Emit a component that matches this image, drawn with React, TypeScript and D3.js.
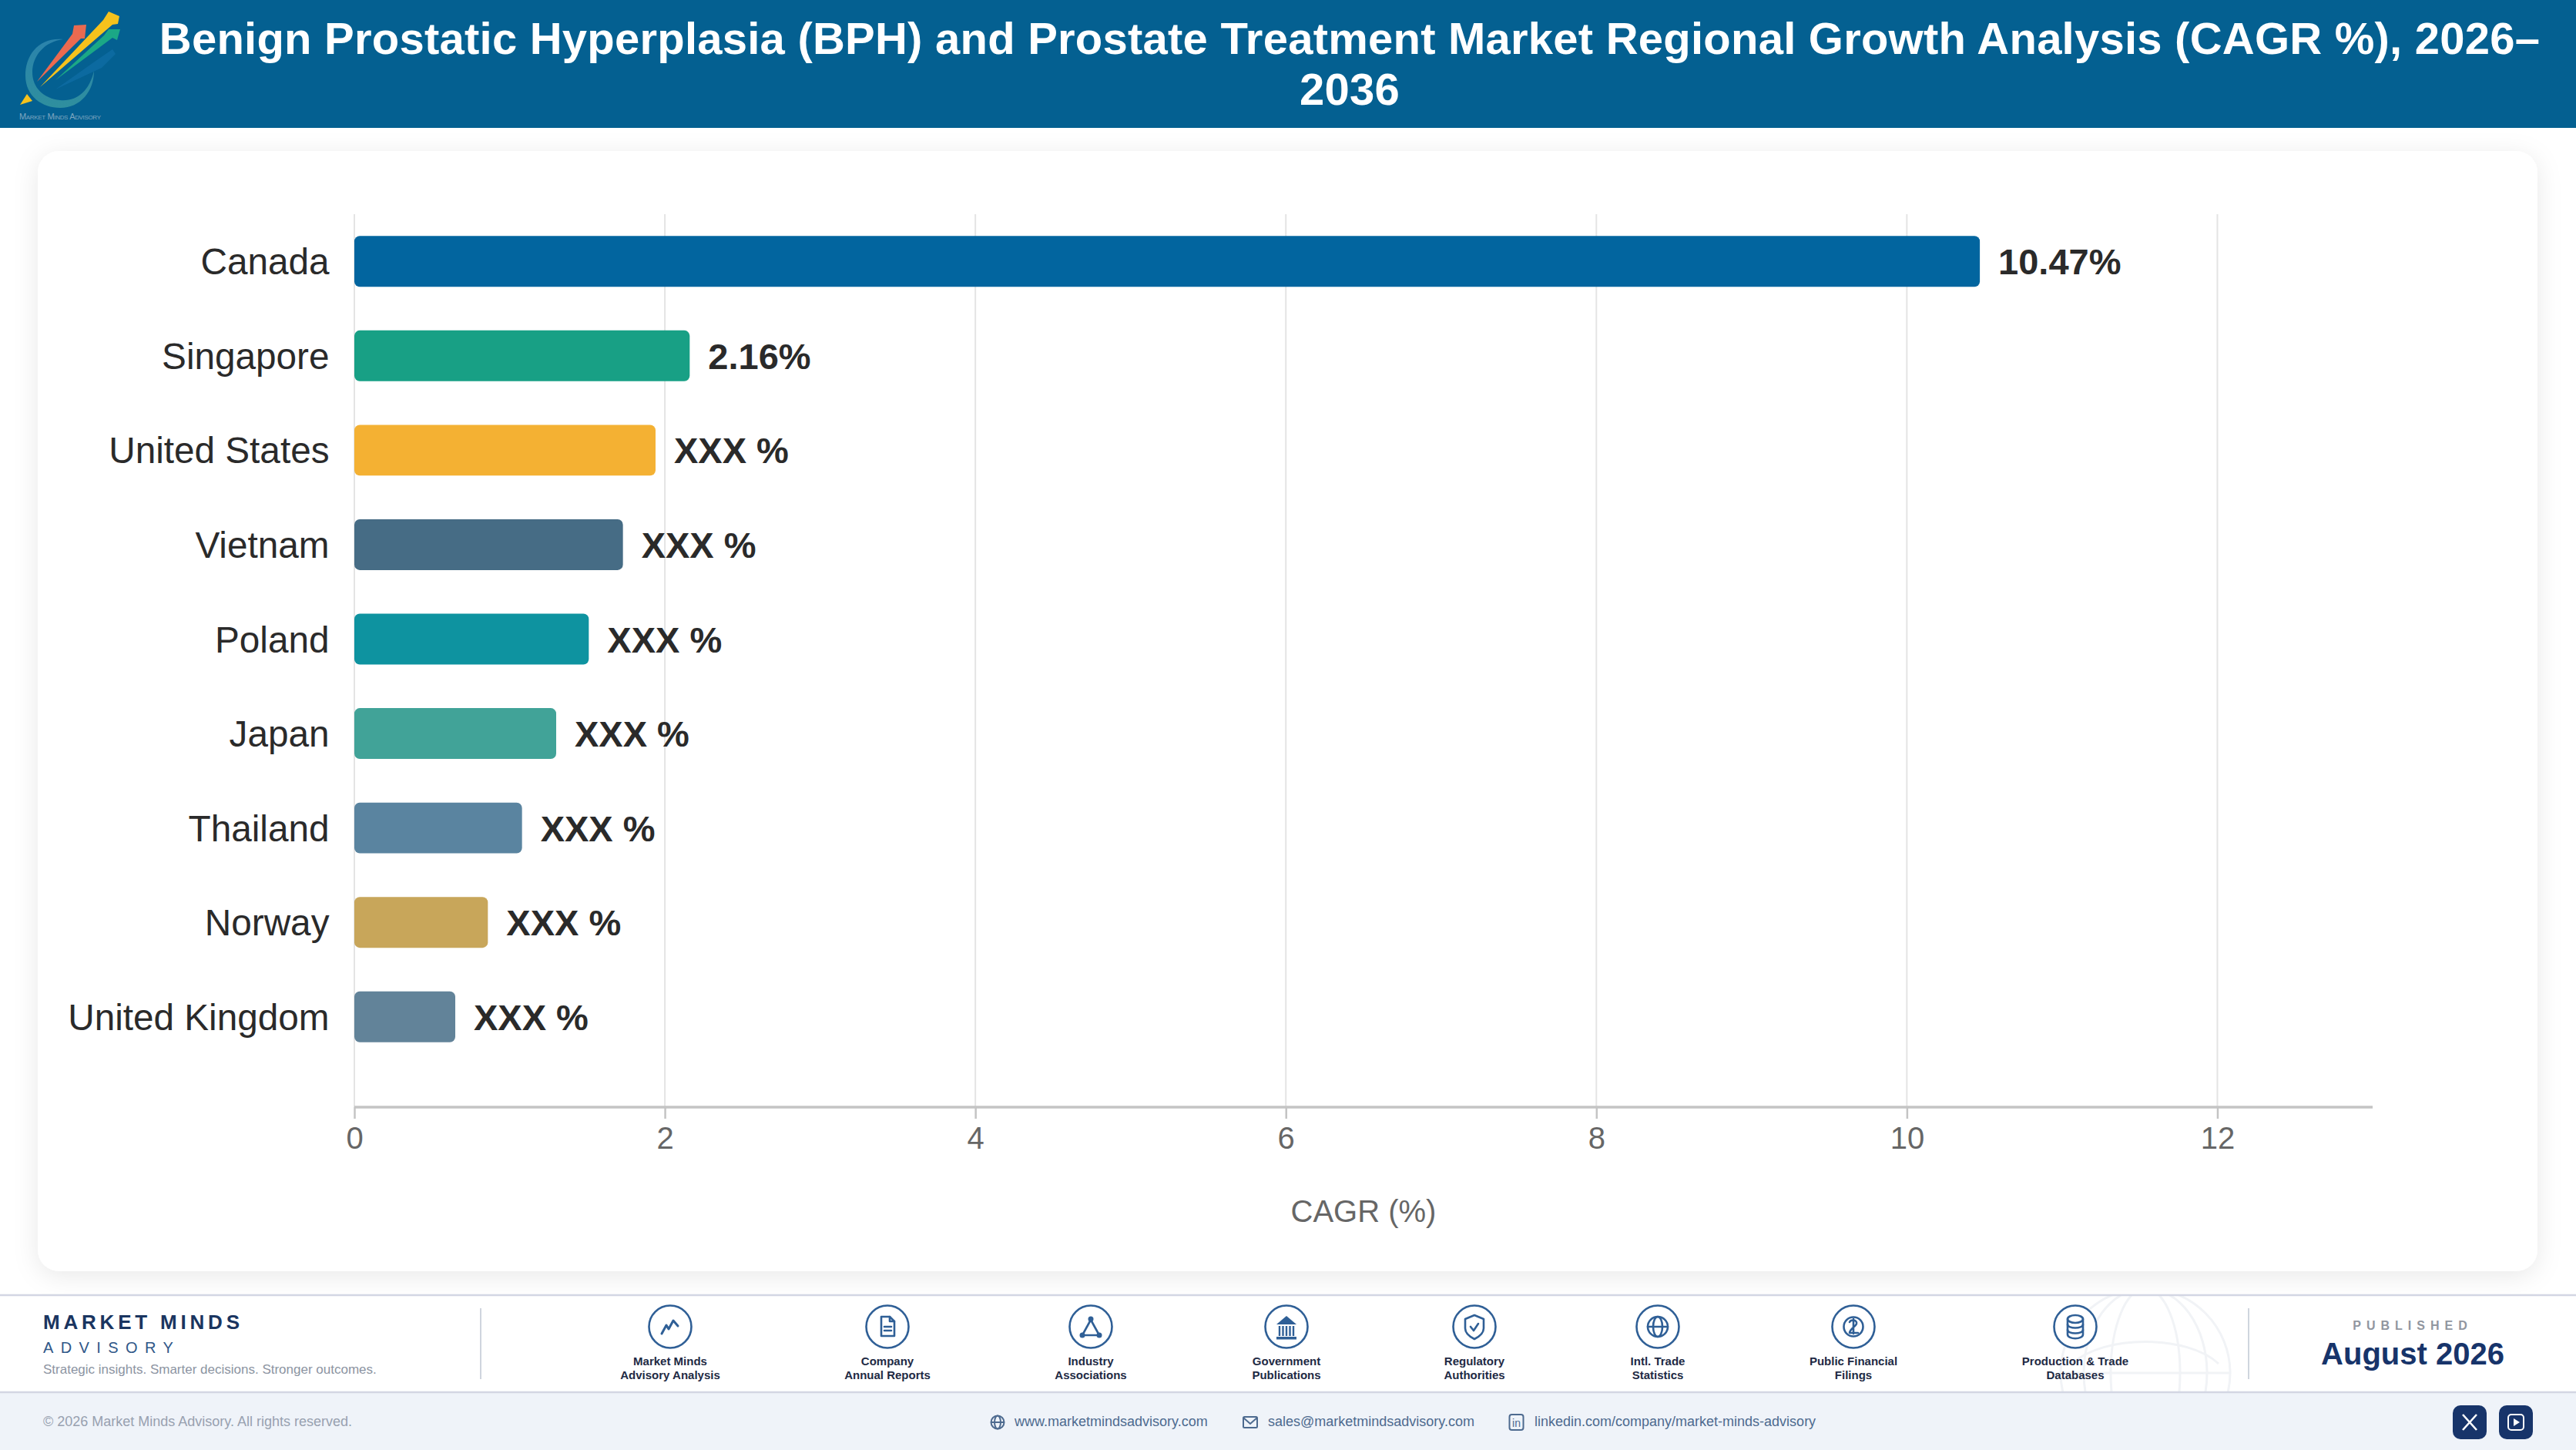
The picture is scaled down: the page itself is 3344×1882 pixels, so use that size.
import React, { useEffect, useRef } from "react";
import * as d3 from "d3";

const categories = ["Canada", "Singapore", "United States", "Vietnam", "Poland", "Japan", "Thailand", "Norway", "United Kingdom"];
const cagrValues = [10.47, 2.16, 1.94, 1.73, 1.51, 1.3, 1.08, 0.86, 0.65];
const valueLabels = ["10.47%", "2.16%", "XXX %", "XXX %", "XXX %", "XXX %", "XXX %", "XXX %", "XXX %"];
const barColors = ["#02659f", "#18a085", "#f4b133", "#466c85", "#0e93a0", "#41a398", "#5a84a0", "#c8a65a", "#628399"];
const xTicks = [0, 2, 4, 6, 8, 10, 12];
const titleLines = [
  "Benign Prostatic Hyperplasia (BPH) and Prostate Treatment Market Regional Growth Analysis (CAGR %), 2026–",
  "2036",
];
const sourceLabels = [
  ["Market Minds", "Advisory Analysis"],
  ["Company", "Annual Reports"],
  ["Industry", "Associations"],
  ["Government", "Publications"],
  ["Regulatory", "Authorities"],
  ["Intl. Trade", "Statistics"],
  ["Public Financial", "Filings"],
  ["Production & Trade", "Databases"],
];
const sourceCenters = [870, 1152, 1416, 1670, 1914, 2152, 2406, 2694];

const FONT = "'Liberation Sans', Arial, sans-serif";
const ICON = "#2f5f96";
const NAVY = "#17346a";

function SourceIcon({ i }: { i: number }) {
  const s = { fill: "none", stroke: ICON, strokeWidth: 2.6, strokeLinejoin: "round" as const, strokeLinecap: "round" as const };
  const f = { fill: ICON, stroke: "none" };
  switch (i) {
    case 0:
      return <path {...s} strokeWidth={3} d="M-11 9 L-5 -2 L-2 3 L4 -8 L10 -1" />;
    case 1:
      return (
        <g {...s}>
          <path d="M-8 -13 H3 L9 -7 V12 H-8 Z" />
          <path d="M3 -13 V-7 H9" />
          <path d="M-4 0 H5 M-4 5 H5" />
        </g>
      );
    case 2:
      return (
        <g>
          <path {...s} d="M0 -9 L-11 11 H11 Z" />
          <circle cx={0} cy={-10} r={3.5} {...f} />
          <circle cx={-11} cy={11} r={3.5} {...f} />
          <circle cx={11} cy={11} r={3.5} {...f} />
        </g>
      );
    case 3:
      return (
        <g>
          <path {...f} d="M0 -14 L13 -3 H-13 Z" />
          <path {...s} strokeLinecap="butt" strokeWidth={2.4} d="M-9 -1 V12 M-4.5 -1 V12 M0 -1 V12 M4.5 -1 V12 M9 -1 V12" />
          <rect x={-13} y={13} width={26} height={3.5} {...f} />
        </g>
      );
    case 4:
      return (
        <g {...s}>
          <path d="M0 -15 L12 -10 V2 C12 9 6 13 0 16 C-6 13 -12 9 -12 2 V-10 Z" />
          <path d="M-5 0 L-1 5 L5 -4" />
        </g>
      );
    case 5:
      return (
        <g {...s}>
          <circle r={13} />
          <ellipse rx={6} ry={13} />
          <path d="M-13 0 H13" />
        </g>
      );
    case 6:
      return (
        <g {...s}>
          <circle r={12.5} />
          <path d="M-5 -6 C-3 -10 5 -9 4 -4 C3 0 -5 3 -5 8 H6 M0 -10 V9" />
        </g>
      );
    default:
      return (
        <g {...s}>
          <ellipse cy={-10} rx={10} ry={5} />
          <path d="M-10 -10 V10 C-10 17 10 17 10 10 V-10" />
          <path d="M-10 -3 C-10 3 10 3 10 -3 M-10 4 C-10 10 10 10 10 4" />
        </g>
      );
  }
}

function Logo() {
  return (
    <g>
      <defs>
        <linearGradient id="ring" x1="0" y1="0" x2="0" y2="1">
          <stop offset="0" stopColor="#2b83ac" />
          <stop offset="1" stopColor="#2f8f9e" />
        </linearGradient>
      </defs>
      <path d="M82 51 C50 48 33 72 33 98 C33 125 55 140 78 140 C105 140 122 118 122 92 C116 118 100 132 78 130 C57 128 42 114 42 94 C42 72 58 54 82 51 Z" fill="url(#ring)" />
      <path d="M72 116 L120 82 L146 64 L150 70 L132 88 Z" fill="#0f6ea6" opacity={0.75} />
      <path d="M72 104 L135 46 L141 38 L156 38 L152 52 L146 49 Z" fill="#1ba886" />
      <path d="M48 106 L94 44 L96 33 L112 32 L110 50 L105 50 Z" fill="#ea6a50" />
      <path d="M52 113 L134 26 L141 15 L155 21 L153 31 L146 32 Z" fill="#f6c21c" />
      <path d="M26 136 L35 122 L42 131 Z" fill="#f6c21c" />
      <text x={25} y={155} fontFamily={FONT} fontSize={11} fill="#7fa6c0" style={{ fontVariant: "small-caps" }} textLength={106}>Market Minds Advisory</text>
    </g>
  );
}

export default function App() {
  const axisRef = useRef<SVGGElement>(null);

  const margin = { left: 460, top: 278, axisY: 1437 };
  const x = d3.scaleLinear().domain([0, 13]).range([margin.left, 3080]);
  const y = d3.scaleBand<string>().domain(categories).range([278, 1381]).paddingInner(0.462).paddingOuter(0.231);

  useEffect(() => {
    if (!axisRef.current) return;
    const g = d3.select(axisRef.current);
    g.call(d3.axisBottom(x).tickValues(xTicks).tickSize(15).tickPadding(11).tickFormat(d3.format("d")) as any);
    g.select(".domain").attr("stroke", "#c4c4c4").attr("stroke-width", 3.5).attr("d", `M${x(0)},0H${x(13)}`);
    g.selectAll(".tick line").attr("stroke", "#c4c4c4").attr("stroke-width", 2.5);
    g.selectAll(".tick text").attr("fill", "#666666").attr("font-size", 40).attr("font-family", FONT);
  }, []);

  return (
    <svg width={3344} height={1882} viewBox="0 0 3344 1882" style={{ position: "absolute", left: 0, top: 0, display: "block" }} fontFamily={FONT}>
      <defs>
        <filter id="cardShadow" x="-5%" y="-8%" width="110%" height="116%">
          <feDropShadow dx={0} dy={6} stdDeviation={16} floodColor="#000" floodOpacity={0.09} />
        </filter>
        <clipPath id="footerClip"><rect x={0} y={1682} width={3344} height={124} /></clipPath>
      </defs>
      <rect width={3344} height={1882} fill="#ffffff" />

      <rect x={0} y={0} width={3344} height={166} fill="#046091" />
      <Logo />
      {titleLines.map((t, i) => (
        <text key={i} x={1752} y={70 + i * 66} textAnchor="middle" fontSize={58} letterSpacing={0.23} fontWeight={700} fill="#ffffff">{t}</text>
      ))}

      <rect x={49} y={196} width={3245} height={1454} rx={28} fill="#ffffff" filter="url(#cardShadow)" />

      {xTicks.map((t) => (
        <line key={t} x1={x(t)} x2={x(t)} y1={margin.top} y2={margin.axisY} stroke="#e4e4e4" strokeWidth={2} />
      ))}
      {categories.map((c, i) => {
        const cy = (y(c) as number) + y.bandwidth() / 2;
        return (
          <g key={c}>
            <rect x={x(0)} y={y(c)} width={x(cagrValues[i]) - x(0)} height={y.bandwidth()} rx={7} fill={barColors[i]} />
            <text x={427.5} y={cy + 17} textAnchor="end" fontSize={47.7} fill="#2a2a2a">{c}</text>
            <text x={x(cagrValues[i]) + 24} y={cy + 17} fontSize={47} fontWeight={700} fill="#2a2a2a">{valueLabels[i]}</text>
          </g>
        );
      })}
      <g ref={axisRef} transform={`translate(0,${margin.axisY})`} />
      <text x={1770} y={1586} textAnchor="middle" fontSize={40} fill="#666666">CAGR (%)</text>

      {/* footer */}
      <rect x={0} y={1681} width={3344} height={126} fill="#ffffff" />
      <g clipPath="url(#footerClip)" fill="none" stroke="#f1f3f6" strokeWidth={3}>
        <circle cx={2785} cy={1782} r={110} />
        <ellipse cx={2785} cy={1782} rx={45} ry={110} />
        <ellipse cx={2785} cy={1782} rx={80} ry={110} />
        <path d="M2675 1782 H2895" />
        <path d="M2690 1770 C2730 1732 2840 1732 2880 1770" />
      </g>
      <line x1={0} x2={3344} y1={1681} y2={1681} stroke="#d3d6e3" strokeWidth={2.5} />
      <rect x={0} y={1807} width={3344} height={75} fill="#eff3f9" />
      <line x1={0} x2={3344} y1={1807} y2={1807} stroke="#d3d6e3" strokeWidth={2.5} />

      <text x={56} y={1725} fontSize={26} fontWeight={700} letterSpacing={4.8} fill="#1a3560">MARKET MINDS</text>
      <text x={56} y={1756} fontSize={20} letterSpacing={9.4} fill="#2f5788">ADVISORY</text>
      <text x={56} y={1783} fontSize={17} fill="#8c94a2">Strategic insights. Smarter decisions. Stronger outcomes.</text>
      <line x1={624} x2={624} y1={1698} y2={1790} stroke="#cfd5de" strokeWidth={2} />
      <line x1={2919} x2={2919} y1={1698} y2={1790} stroke="#cfd5de" strokeWidth={2} />

      {sourceLabels.map((l, i) => (
        <g key={i} transform={`translate(${sourceCenters[i]},0)`}>
          <circle cx={0} cy={1722} r={27.5} fill="#ffffff" stroke={ICON} strokeWidth={2.6} />
          <g transform="translate(0,1722)"><SourceIcon i={i} /></g>
          {l.map((t, j) => (
            <text key={j} x={0} y={1772 + j * 18} textAnchor="middle" fontSize={15} fontWeight={700} fill="#1e2a44">{t}</text>
          ))}
        </g>
      ))}

      <text x={3132} y={1726} textAnchor="middle" fontSize={16} fontWeight={700} letterSpacing={7} fill="#9196a0">PUBLISHED</text>
      <text x={3132} y={1771} textAnchor="middle" fontSize={40} fontWeight={700} fill={NAVY}>August 2026</text>

      <text x={56} y={1851} fontSize={18} fill="#98a1b0">© 2026 Market Minds Advisory. All rights reserved.</text>
      <g fontSize={18} fill="#4d6a8f">
        <text x={1317} y={1851}>www.marketmindsadvisory.com</text>
        <text x={1646} y={1851}>sales@marketmindsadvisory.com</text>
        <text x={1992} y={1851}>linkedin.com/company/market-minds-advisory</text>
      </g>
      <g fill="none" stroke="#4d6a8f" strokeWidth={2}>
        <g transform="translate(1295,1846)"><circle r={8.5} /><ellipse rx={4} ry={8.5} /><path d="M-8.5 0 H8.5" /></g>
        <g transform="translate(1623,1846)"><rect x={-9} y={-7} width={18} height={14} rx={1.5} /><path d="M-9 -6 L0 2 L9 -6" /></g>
        <g transform="translate(1968.5,1846)"><rect x={-9} y={-10} width={18} height={20} rx={3} /></g>
      </g>
      <text x={1968.5} y={1852} textAnchor="middle" fontSize={14} fill="#4d6a8f">in</text>

      <rect x={3184} y={1824} width={44} height={44} rx={10} fill={NAVY} />
      <rect x={3244} y={1824} width={44} height={44} rx={10} fill={NAVY} />
      <path d="M3197 1836 L3215 1856 M3215 1836 L3197 1856" stroke="#ffffff" strokeWidth={2.6} fill="none" />
      <rect x={3256} y={1836} width={20} height={20} rx={4} fill="none" stroke="#ffffff" strokeWidth={2} />
      <path d="M3263 1841 L3271 1846 L3263 1851 Z" fill="#ffffff" />
    </svg>
  );
}
